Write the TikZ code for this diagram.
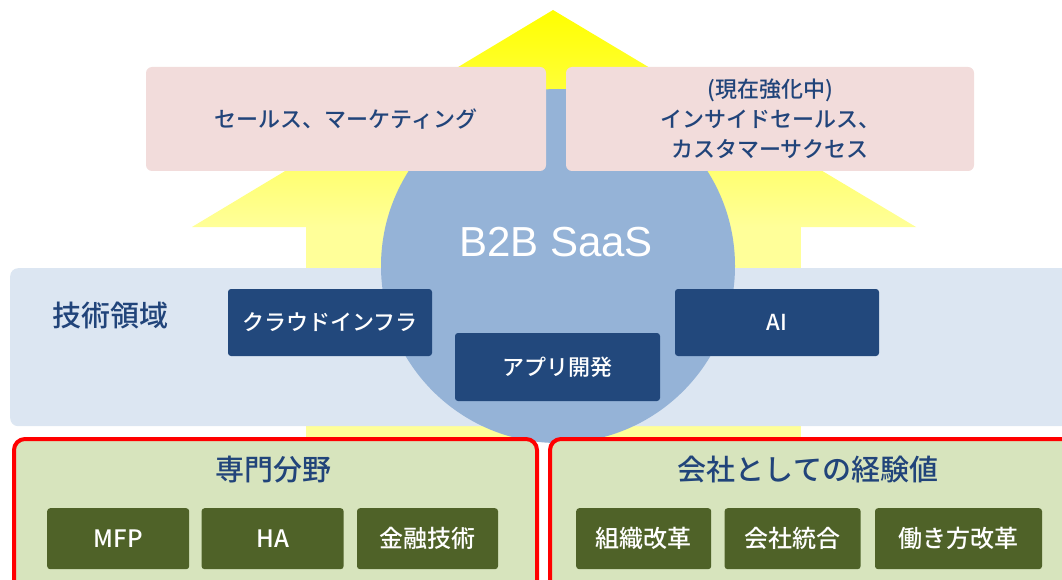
\documentclass[tikz,border=0pt]{standalone}
\usepackage{fontspec}
\setmainfont{Noto Sans CJK JP Medium}
\newfontfamily\saasfont{Liberation Sans}
\usepackage{xcolor}
\usetikzlibrary{positioning}
\definecolor{arrowyellow}{RGB}{255,255,0}
\definecolor{bandblue}{RGB}{220,230,242}
\definecolor{saasblue}{RGB}{149,179,215}
\definecolor{salespink}{RGB}{242,220,219}
\definecolor{techblue}{RGB}{34,72,124}
\definecolor{textnavy}{RGB}{33,68,122}
\definecolor{fieldred}{RGB}{255,0,0}
\definecolor{fieldgreen}{RGB}{215,228,189}
\definecolor{itemolive}{RGB}{79,98,40}

\begin{document}
\begin{tikzpicture}[x=1pt,y=-1pt,
    pinkbox/.style={rectangle,rounded corners=6pt,fill=salespink,text=textnavy,align=center,
      font=\fontsize{22}{30}\selectfont,minimum height=104pt,inner sep=0pt},
    techbox/.style={rectangle,rounded corners=3pt,fill=techblue,text=white,
      font=\fontsize{22}{26}\selectfont,minimum width=204pt,minimum height=67pt,inner sep=0pt},
    fieldbox/.style={rectangle,rounded corners=11pt,draw=fieldred,line width=4pt,fill=fieldgreen,
      minimum height=155pt,anchor=north west,inner sep=0pt},
    fieldtitle/.style={text=textnavy,font=\fontsize{29}{32}\selectfont},
    itembox/.style={rectangle,rounded corners=3pt,fill=itemolive,text=white,
      font=\fontsize{24}{26}\selectfont,minimum height=61pt,anchor=north west,inner sep=0pt}]
  \useasboundingbox (0,0) rectangle (1062,580);

  % growth arrow behind everything
  \shade[top color=arrowyellow,bottom color=arrowyellow!40] (553,10) -- (916,227) -- (192,227) -- cycle;
  \fill[arrowyellow!40] (306,227) rectangle (801,437);

  % technology band and the SaaS circle
  \node[rectangle,rounded corners=8pt,fill=bandblue,minimum width=1065pt,minimum height=158pt,
    anchor=north west,inner sep=0pt] (techband) at (10,268) {};
  \node[circle,fill=saasblue,minimum size=354pt,inner sep=0pt] (saas) at (558,266) {};
  \node[text=white,font=\saasfont\fontsize{42}{42}\selectfont] (saaslabel) at (556,242) {B2B SaaS};

  % business side
  \node[pinkbox,minimum width=400pt] (sales) at (346,119) {セールス、マーケティング};
  \node[pinkbox,minimum width=408pt] (insidesales) at (770,119) {(現在強化中)\\インサイドセールス、\\カスタマーサクセス};

  % technology
  \node[text=textnavy,font=\fontsize{29}{30}\selectfont] (techlabel) at (110,316) {技術領域};
  \node[techbox] (cloud) at (330,322.5) {クラウドインフラ};
  \node[techbox] (ai) at (777,322.5) {AI};
  \node[techbox,minimum width=205pt,minimum height=68pt] (appdev) at (557.5,367) {アプリ開発};

  % foundations
  \node[fieldbox,minimum width=523pt] (expertise) at (12,437) {};
  \node[fieldbox,minimum width=527pt] (experience) at (548,437) {};
  \node[fieldtitle] (expertisetitle) at (273,470) {専門分野};
  \node[fieldtitle] (experiencetitle) at (808,470) {会社としての経験値};

  \node[itembox,minimum width=142pt] (mfp) at (47,508) {MFP};
  \node[itembox,minimum width=142pt,right=12pt of mfp] (ha) {HA};
  \node[itembox,minimum width=141pt,right=13pt of ha] (fintech) {金融技術};
  \node[itembox,minimum width=135pt] (orgreform) at (576,508) {組織改革};
  \node[itembox,minimum width=136pt,right=13pt of orgreform] (merger) {会社統合};
  \node[itembox,minimum width=167pt,right=14pt of merger] (workstyle) {働き方改革};
\end{tikzpicture}
\end{document}
